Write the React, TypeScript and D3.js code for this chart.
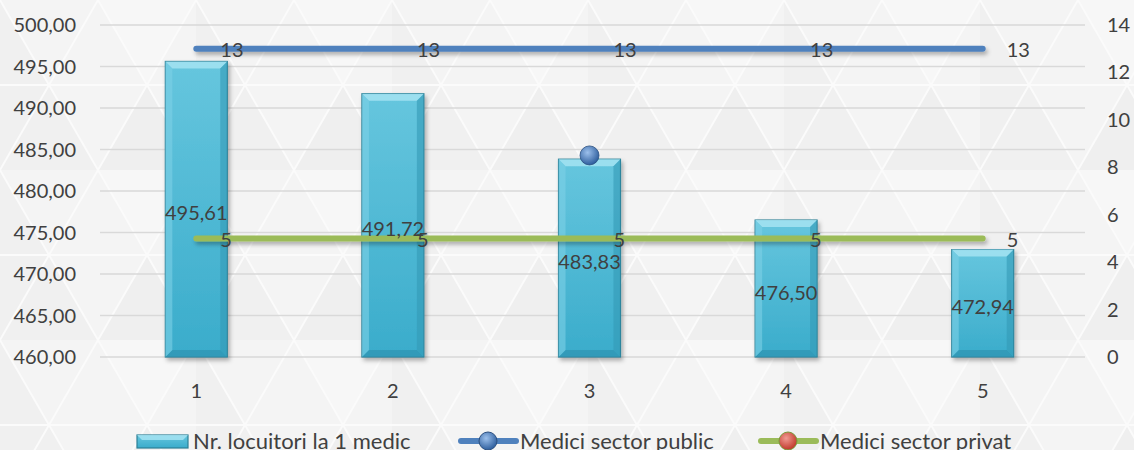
import React, { useEffect, useRef } from 'react';
import * as d3 from 'd3';

const categories = ['1', '2', '3', '4', '5'];
const locuitori = [495.61, 491.72, 483.83, 476.5, 472.94];
const mediciPublic = [13, 13, 13, 13, 13];
const mediciPrivat = [5, 5, 5, 5, 5];
// stray marker of the public series shown at category 3
const publicMarker = [null, null, 8.5, null, null];
const leftTicks = [460, 465, 470, 475, 480, 485, 490, 495, 500];
const rightTicks = [0, 2, 4, 6, 8, 10, 12, 14];

const W = 1134;
const H = 450;
const FONT = 'Lato, "Open Sans", sans-serif';
const TXT = '#404040';

export default function App() {
  const ref = useRef<SVGSVGElement>(null);

  useEffect(() => {
    const svg = d3.select(ref.current);
    svg.selectAll('*').remove();

    const plot = { left: 100, right: 1085, top: 25, bottom: 357 };

    const x = d3.scaleBand().domain(categories).range([98, 1081]).padding(0);
    const cx = (c: string) => (x(c) as number) + x.bandwidth() / 2;
    const yL = d3.scaleLinear().domain([460, 500]).range([plot.bottom, plot.top]);
    const yR = d3.scaleLinear().domain([0, 14]).range([plot.bottom, plot.top]);

    const defs = svg.append('defs');

    // background triangles, kept faint
    const pat = defs
      .append('pattern')
      .attr('id', 'tri')
      .attr('patternUnits', 'userSpaceOnUse')
      .attr('width', 196)
      .attr('height', 170);
    pat.append('rect').attr('width', 196).attr('height', 170).attr('fill', '#f4f4f4');
    pat.append('path').attr('d', 'M0,0 L98,170 L0,170 Z').attr('fill', '#f0f0f0');
    pat.append('path').attr('d', 'M98,0 L196,0 L147,85 Z').attr('fill', '#f7f7f7');
    pat.append('path').attr('d', 'M98,170 L196,170 L147,85 Z').attr('fill', '#efefef');
    pat
      .append('path')
      .attr('d', 'M0,0 L98,170 M98,0 L0,170 M98,0 L196,170 M196,0 L98,170 M0,85 L196,85')
      .attr('stroke', '#fbfbfb')
      .attr('stroke-width', 2)
      .attr('fill', 'none');

    const bg = defs.append('linearGradient').attr('id', 'barGrad').attr('x1', 0).attr('x2', 0).attr('y1', 0).attr('y2', 1);
    bg.append('stop').attr('offset', '0%').attr('stop-color', '#66c6de');
    bg.append('stop').attr('offset', '100%').attr('stop-color', '#3aaccb');

    const sh = defs
      .append('filter')
      .attr('id', 'shadow')
      .attr('filterUnits', 'userSpaceOnUse')
      .attr('x', 0)
      .attr('y', 0)
      .attr('width', W)
      .attr('height', H);
    sh.append('feDropShadow').attr('dx', 2).attr('dy', 3).attr('stdDeviation', 2).attr('flood-color', '#000').attr('flood-opacity', 0.3);

    const rg = (id: string, light: string, dark: string) => {
      const g = defs.append('radialGradient').attr('id', id).attr('cx', '40%').attr('cy', '35%').attr('r', '65%');
      g.append('stop').attr('offset', '0%').attr('stop-color', light);
      g.append('stop').attr('offset', '100%').attr('stop-color', dark);
    };
    rg('ballBlue', '#9cc0ec', '#2f5f9e');
    rg('ballRed', '#f19a92', '#c0392b');

    svg.append('rect').attr('width', W).attr('height', H).attr('fill', 'url(#tri)');

    // gridlines
    svg
      .append('g')
      .selectAll('line')
      .data(leftTicks)
      .join('line')
      .attr('x1', plot.left)
      .attr('x2', plot.right)
      .attr('y1', (d) => yL(d))
      .attr('y2', (d) => yL(d))
      .attr('stroke', '#d9d9d9')
      .attr('stroke-width', 1.5);

    // left axis labels
    svg
      .append('g')
      .selectAll('text')
      .data(leftTicks)
      .join('text')
      .attr('x', 76)
      .attr('y', (d) => yL(d))
      .attr('dy', '0.35em')
      .attr('text-anchor', 'end')
      .attr('font-family', FONT)
      .attr('font-size', 20)
      .attr('fill', TXT)
      .text((d) => d3.format('.2f')(d).replace('.', ','));

    // right axis labels
    svg
      .append('g')
      .selectAll('text')
      .data(rightTicks)
      .join('text')
      .attr('x', 1107)
      .attr('y', (d) => yR(d))
      .attr('dy', '0.35em')
      .attr('font-family', FONT)
      .attr('font-size', 20)
      .attr('fill', TXT)
      .text((d) => String(d));

    // category labels
    svg
      .append('g')
      .selectAll('text')
      .data(categories)
      .join('text')
      .attr('x', (d) => cx(d))
      .attr('y', 391)
      .attr('dy', '0.35em')
      .attr('text-anchor', 'middle')
      .attr('font-family', FONT)
      .attr('font-size', 20)
      .attr('fill', TXT)
      .text((d) => d);

    // bars
    const bw = x.bandwidth() * 0.315;
    const bars = svg.append('g');
    categories.forEach((c, i) => {
      const x0 = cx(c) - bw / 2;
      const y0 = yL(locuitori[i]);
      const h = plot.bottom - y0;
      const g = bars.append('g');
      g.append('rect')
        .attr('x', x0)
        .attr('y', y0)
        .attr('width', bw)
        .attr('height', h)
        .attr('fill', 'url(#barGrad)')
        .attr('stroke', '#2c7f95')
        .attr('stroke-width', 1.2)
        .attr('filter', 'url(#shadow)');
      const b = 7;
      g.append('path')
        .attr('d', `M${x0},${y0} L${x0 + bw},${y0} L${x0 + bw - b},${y0 + b} L${x0 + b},${y0 + b} Z`)
        .attr('fill', '#a5e3f2')
        .attr('opacity', 0.85);
      g.append('path')
        .attr('d', `M${x0},${y0 + h} L${x0 + bw},${y0 + h} L${x0 + bw - b},${y0 + h - b} L${x0 + b},${y0 + h - b} Z`)
        .attr('fill', '#2f93b0')
        .attr('opacity', 0.7);
      g.append('path')
        .attr('d', `M${x0 + bw},${y0} L${x0 + bw},${y0 + h} L${x0 + bw - b},${y0 + h - b} L${x0 + bw - b},${y0 + b} Z`)
        .attr('fill', '#3499b5')
        .attr('opacity', 0.6);
      g.append('path')
        .attr('d', `M${x0},${y0} L${x0},${y0 + h} L${x0 + b},${y0 + h - b} L${x0 + b},${y0 + b} Z`)
        .attr('fill', '#7dd0e6')
        .attr('opacity', 0.6);
    });

    // lines
    const line = (vals: number[]) =>
      d3
        .line<number>()
        .x((_, i) => cx(categories[i]))
        .y((d) => yR(d))(vals);

    svg
      .append('path')
      .attr('d', line(mediciPublic))
      .attr('fill', 'none')
      .attr('stroke', '#4f81bd')
      .attr('stroke-width', 6)
      .attr('stroke-linecap', 'round')
      .attr('filter', 'url(#shadow)');
    svg
      .append('path')
      .attr('d', line(mediciPrivat))
      .attr('fill', 'none')
      .attr('stroke', '#9bbb59')
      .attr('stroke-width', 6)
      .attr('stroke-linecap', 'round')
      .attr('filter', 'url(#shadow)');

    publicMarker.forEach((v, i) => {
      if (v == null) return;
      svg
        .append('circle')
        .attr('cx', cx(categories[i]))
        .attr('cy', yR(v))
        .attr('r', 9.5)
        .attr('fill', 'url(#ballBlue)')
        .attr('stroke', '#2a4f80')
        .attr('stroke-width', 0.8);
    });

    // data labels
    const lbl = svg.append('g').attr('font-family', FONT).attr('font-size', 20).attr('fill', TXT);
    categories.forEach((c, i) => {
      lbl
        .append('text')
        .attr('x', cx(c))
        .attr('y', (yL(locuitori[i]) + plot.bottom) / 2 + 4)
        .attr('dy', '0.35em')
        .attr('text-anchor', 'middle')
        .text(d3.format('.2f')(locuitori[i]).replace('.', ','));
      lbl
        .append('text')
        .attr('x', cx(c) + 24)
        .attr('y', yR(mediciPublic[i]) + 1)
        .attr('dy', '0.35em')
        .text(String(mediciPublic[i]));
      lbl
        .append('text')
        .attr('x', cx(c) + 24)
        .attr('y', yR(mediciPrivat[i]) + 2)
        .attr('dy', '0.35em')
        .text(String(mediciPrivat[i]));
    });

    // legend
    const lg = svg.append('g').attr('font-family', FONT).attr('font-size', 22).attr('fill', TXT);
    const ly = 441;
    lg.append('rect')
      .attr('x', 137)
      .attr('y', ly - 6)
      .attr('width', 51)
      .attr('height', 13)
      .attr('fill', 'url(#barGrad)')
      .attr('stroke', '#2c7f95')
      .attr('stroke-width', 1.2);
    lg.append('path')
      .attr('d', `M137,${ly - 6} L188,${ly - 6} L183,${ly - 1} L142,${ly - 1} Z`)
      .attr('fill', '#a5e3f2')
      .attr('opacity', 0.85);
    lg.append('text').attr('x', 193).attr('y', ly).attr('dy', '0.35em').text('Nr. locuitori la 1 medic');

    const legLine = (x0: number, color: string, ball: string, stroke: string, label: string) => {
      lg.append('line')
        .attr('x1', x0 + 3)
        .attr('x2', x0 + 58)
        .attr('y1', ly)
        .attr('y2', ly)
        .attr('stroke', color)
        .attr('stroke-width', 6)
        .attr('stroke-linecap', 'round');
      lg.append('circle')
        .attr('cx', x0 + 30)
        .attr('cy', ly)
        .attr('r', 9)
        .attr('fill', `url(#${ball})`)
        .attr('stroke', stroke)
        .attr('stroke-width', 1);
      lg.append('text').attr('x', x0 + 62).attr('y', ly).attr('dy', '0.35em').text(label);
    };
    legLine(458, '#4f81bd', 'ballBlue', '#2a4f80', 'Medici sector public');
    legLine(758, '#9bbb59', 'ballRed', '#7a9a3a', 'Medici sector privat');
  }, []);

  return (
    <svg
      ref={ref}
      width={W}
      height={H}
      style={{ position: 'absolute', left: 0, top: 0, display: 'block' }}
    />
  );
}
